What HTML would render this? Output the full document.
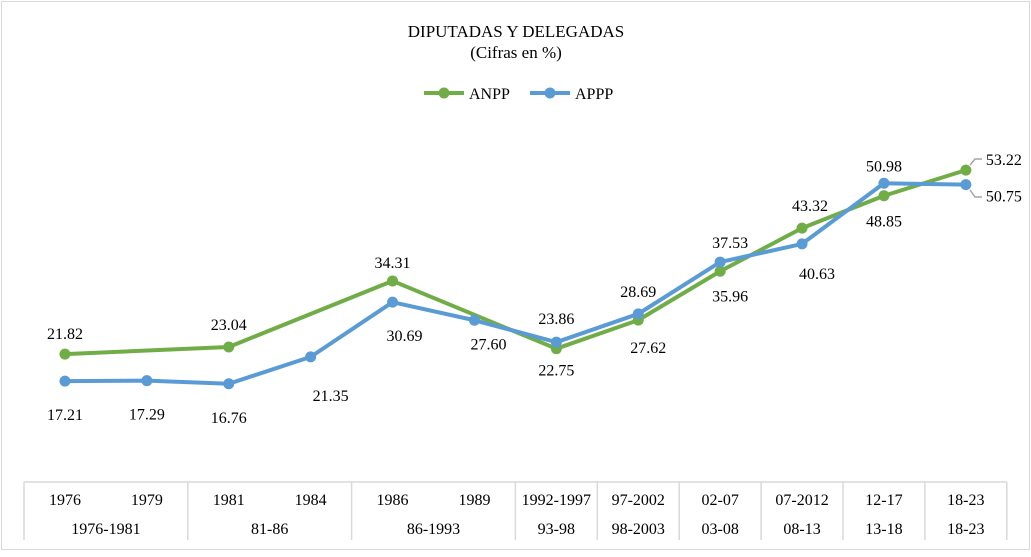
<!DOCTYPE html>
<html><head><meta charset="utf-8"><style>
body{margin:0;background:#fff}
svg text{font-family:"Liberation Serif",serif;fill:#000}
</style></head><body>
<svg width="1031" height="552" viewBox="0 0 1031 552">
<rect x="1.5" y="1.5" width="1028" height="548" fill="#fff" stroke="#d9d9d9"/>
<text x="516" y="37" font-size="17" text-anchor="middle">DIPUTADAS Y DELEGADAS</text>
<text x="516" y="58" font-size="17" text-anchor="middle">(Cifras en %)</text>
<g>
<g><line x1="424" y1="93" x2="464" y2="93" stroke="#70ad47" stroke-width="4"/><circle cx="444" cy="93" r="5.5" fill="#70ad47"/><text x="469" y="99" font-size="16">ANPP</text></g>
<g><line x1="530" y1="93" x2="570" y2="93" stroke="#5b9bd5" stroke-width="4"/><circle cx="550" cy="93" r="5.5" fill="#5b9bd5"/><text x="575" y="99" font-size="16">APPP</text></g>
</g>
<g stroke="#a6a6a6" stroke-width="1.5" fill="none">
<polyline points="970,165 975,159 982,159"/>
<polyline points="970,190 975,197 982,197"/>
</g>
<g id="table"></g>
<g id="plot"></g>
</svg>
<script>
const categories=["1976","1979","1981","1984","1986","1989","1992-1997","97-2002","02-07","07-2012","12-17","18-23"];
const groups=["1976-1981","81-86","86-1993","93-98","98-2003","03-08","08-13","13-18","18-23"];
const groupSpans=[2,2,2,1,1,1,1,1,1];
const anpp=[21.82,null,23.04,null,34.31,null,22.75,27.62,35.96,43.32,48.85,53.22];
const appp=[17.21,17.29,16.76,21.35,30.69,27.60,23.86,28.69,37.53,40.63,50.98,50.75];
// label offsets [dx,dy] relative to point
const anppLab=[[0,-20],null,[0,-22],null,[0,-18],null,[0,22],[10,28],[10,25],[8,-22],[0,26],[38,-10]];
const apppLab=[[0,34],[0,34],[0,34],[20,39],[12,34],[14,24],[0,-23],[0,-22],[10,-19],[15,30],[0,-17],[38,12]];
const NS="http://www.w3.org/2000/svg";
const x0=24,cw=81.9,base=482,k=5.86;
const X=i=>x0+cw*(i+0.5), Y=v=>base-v*k;
function mk(t,a,p){const e=document.createElementNS(NS,t);for(const q in a)e.setAttribute(q,a[q]);(p).appendChild(e);return e;}
const tb=document.getElementById('table'),pl=document.getElementById('plot');
const x1=x0+cw*categories.length;
let l=mk('line',{x1:x0,y1:base,x2:x1,y2:base,stroke:'#d9d9d9','stroke-width':1.5},tb);


let s=0;
for(let g=0;g<=groups.length;g++){
 const xx=x0+cw*s;
 const d=mk('line',{x1:xx,y1:base,x2:xx,y2:540,stroke:'#d9d9d9','stroke-width':1.5},tb);
 
 
 if(g<groups.length){
  const t=mk('text',{x:xx+cw*groupSpans[g]/2,y:534,'font-size':16,'text-anchor':'middle'},tb);t.textContent=groups[g];
  
  
  s+=groupSpans[g];
 }
}
categories.forEach((c,i)=>{const t=mk('text',{x:X(i),y:505,'font-size':16,'text-anchor':'middle'},tb);t.textContent=c;
 
 });
function series(vals,col,name,labs){
 const g=mk('g',{},pl);
 
 
 const pts=[];vals.forEach((v,i)=>{if(v!=null)pts.push([X(i),Y(v),v,i]);});
 const p=mk('polyline',{points:pts.map(q=>q[0]+','+q[1]).join(' '),fill:'none',stroke:col,'stroke-width':4,'stroke-linejoin':'round'},g);
 
 
 pts.forEach(q=>{const c=mk('circle',{cx:q[0],cy:q[1],r:5.5,fill:col},g);
  
  
  const o=labs[q[3]];const t=mk('text',{x:q[0]+o[0],y:q[1]+o[1]+5,'font-size':16,'text-anchor':'middle'},g);t.textContent=q[2].toFixed(2);
  
  });
}
series(anpp,'#70ad47','anpp',anppLab);
series(appp,'#5b9bd5','appp',apppLab);
</script>
</body></html>
